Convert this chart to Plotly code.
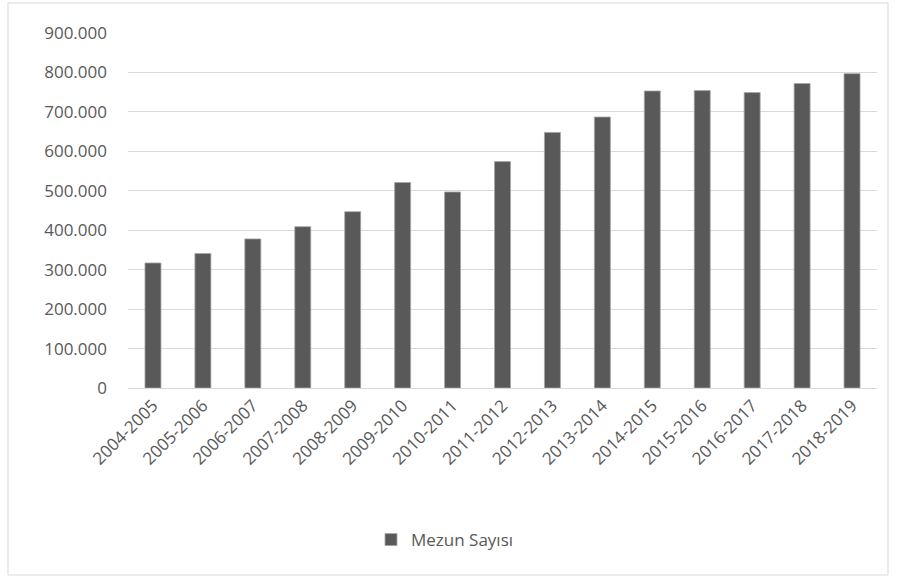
import plotly.graph_objects as go

years = ["2004-2005", "2005-2006", "2006-2007", "2007-2008", "2008-2009", "2009-2010",
         "2010-2011", "2011-2012", "2012-2013", "2013-2014", "2014-2015", "2015-2016",
         "2016-2017", "2017-2018", "2018-2019"]
mezun = [317000, 341000, 378000, 409000, 447000, 521000, 497000, 574000, 648000, 687000,
         753000, 754000, 749000, 772000, 797000]
ytickvals = [0, 100000, 200000, 300000, 400000, 500000, 600000, 700000, 800000, 900000]
yticktext = ["0", "100.000", "200.000", "300.000", "400.000", "500.000", "600.000",
             "700.000", "800.000", "900.000"]

fig = go.Figure()
fig.add_trace(go.Bar(
    x=years, y=mezun, name="Mezun Sayısı",
    marker=dict(color="#595959", line=dict(color="#a6a6a6", width=0.8)),
))

W, H = 897, 576
ml, mr, mt, mb = 128, 20, 33, 188
pw = W - ml - mr
ph = H - mt - mb
TXT = "#595959"
fig.update_layout(
    width=W, height=H,
    margin=dict(l=ml, r=mr, t=mt, b=mb, autoexpand=False),
    paper_bgcolor="white", plot_bgcolor="white",
    bargap=0.68,
    font=dict(family="Open Sans, Liberation Sans, sans-serif", color=TXT, size=17),
    showlegend=True,
    legend=dict(orientation="h", x=(445 - ml) / pw, xanchor="center",
                y=(H - mb - 540) / ph, yanchor="middle",
                font=dict(size=17, color=TXT), itemwidth=30),
    xaxis=dict(tickangle=-45, showgrid=False, showline=True, linecolor="#d9d9d9",
               linewidth=1, ticks="", tickfont=dict(size=17, color=TXT), automargin=False),
    yaxis=dict(range=[0, 900000], tickvals=ytickvals, ticktext=yticktext,
               showgrid=True, gridcolor="#d9d9d9", gridwidth=1, zeroline=False,
               ticks="", ticklabelstandoff=20, tickfont=dict(size=17, color=TXT),
               automargin=False),
)
# outer chart border
fig.add_shape(type="rect", xref="paper", yref="paper",
              x0=(8 - ml) / pw, x1=(888 - ml) / pw,
              y0=(H - mb - 575) / ph, y1=(H - mb - 3) / ph,
              line=dict(color="#d9d9d9", width=1), fillcolor="rgba(0,0,0,0)", layer="below")

fig.write_html("out.html", config={"displayModeBar": False},
               post_script="document.body.style.margin='0';document.body.style.padding='0';")
